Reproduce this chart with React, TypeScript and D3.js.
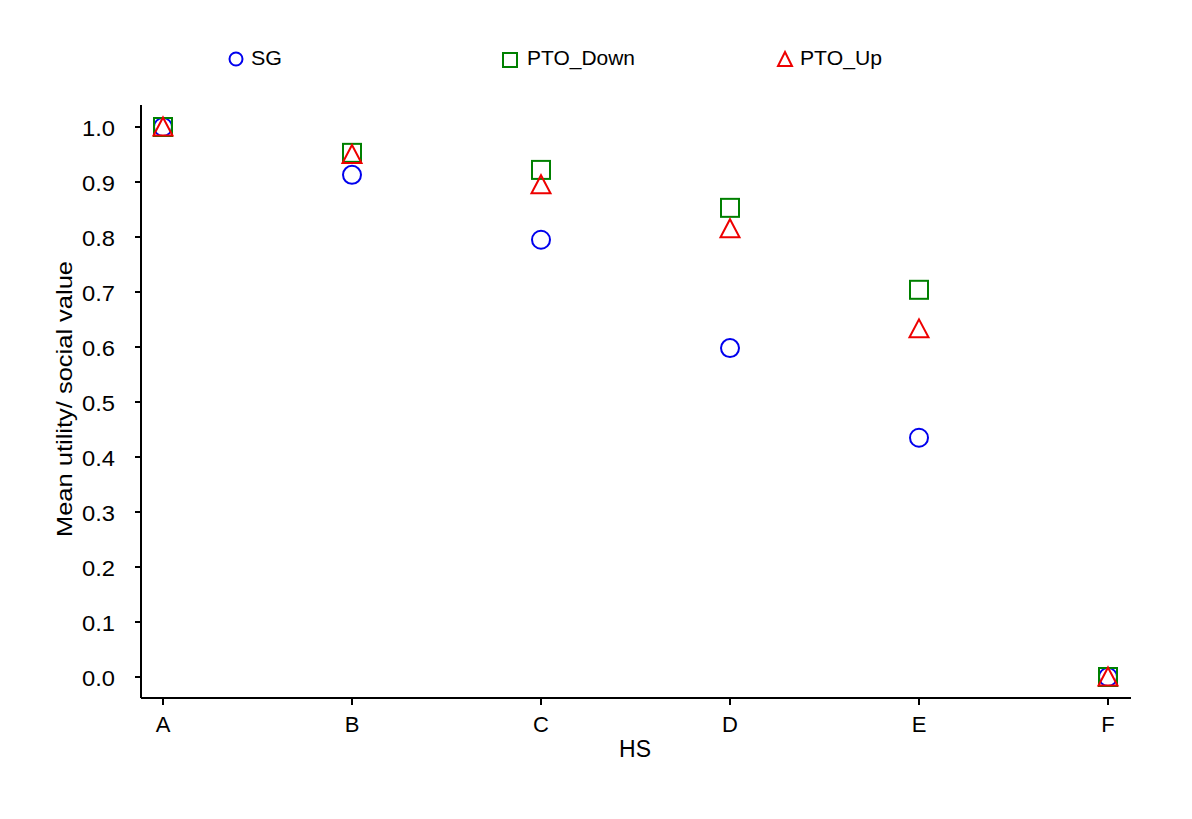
import React from "react";
import * as d3 from "d3";

const categories = ["A", "B", "C", "D", "E", "F"];
const sgValues = [1.0, 0.913, 0.795, 0.598, 0.435, 0.0];
const ptoDownValues = [1.0, 0.953, 0.922, 0.853, 0.704, 0.0];
const ptoUpValues = [1.0, 0.95, 0.895, 0.815, 0.633, 0.0];
const yTicks = [0, 0.1, 0.2, 0.3, 0.4, 0.5, 0.6, 0.7, 0.8, 0.9, 1.0];

const W = 1192, H = 819;
const axisX = 141, axisY = 698, axisRight = 1131, axisTop = 105;
const font = "'Liberation Sans', Arial, Helvetica, sans-serif";

export default function App() {
  const x = d3.scalePoint<string>().domain(categories).range([163, 1108]);
  const y = d3.scaleLinear().domain([0, 1]).range([677, 127]);
  const tri = (cx: number, cy: number) =>
    `M${cx},${cy - 9.5}L${cx + 9.5},${cy + 8.5}L${cx - 9.5},${cy + 8.5}Z`;
  return (
    <svg width={W} height={H} style={{ position: "absolute", left: 0, top: 0, background: "#fff" }} fontFamily={font}>
      <rect width={W} height={H} fill="#fff" />
      {/* legend */}
      <circle cx={236} cy={59} r={6.5} fill="none" stroke="#0000ee" strokeWidth={2} />
      <text x={251} y={65} fontSize={21} textLength={31} lengthAdjust="spacingAndGlyphs">SG</text>
      <rect x={503} y={53} width={14} height={14} fill="none" stroke="#008000" strokeWidth={2} />
      <text x={527} y={65} fontSize={21} textLength={108} lengthAdjust="spacingAndGlyphs">PTO_Down</text>
      <path d={`M785,52L792,66L778,66Z`} fill="none" stroke="#ee0000" strokeWidth={2} />
      <text x={800} y={65} fontSize={21} textLength={82} lengthAdjust="spacingAndGlyphs">PTO_Up</text>
      {/* axes */}
      <line x1={axisX} y1={axisTop} x2={axisX} y2={axisY} stroke="#000" strokeWidth={2} />
      <line x1={axisX} y1={axisY} x2={axisRight} y2={axisY} stroke="#000" strokeWidth={2} />
      {yTicks.map((t) => (
        <g key={t}>
          <line x1={axisX - 6} x2={axisX} y1={y(t)} y2={y(t)} stroke="#000" strokeWidth={2} />
          <text x={115} y={y(t) + 9} fontSize={22} textAnchor="end" textLength={33} lengthAdjust="spacingAndGlyphs">{d3.format(".1f")(t)}</text>
        </g>
      ))}
      {categories.map((c) => (
        <g key={c}>
          <line x1={x(c)!} x2={x(c)!} y1={axisY} y2={axisY + 7} stroke="#000" strokeWidth={2} />
          <text x={x(c)!} y={axisY + 34} fontSize={22} textAnchor="middle">{c}</text>
        </g>
      ))}
      <text x={635} y={757} fontSize={23} textAnchor="middle">HS</text>
      <text transform={`translate(72,399) rotate(-90)`} fontSize={22} textAnchor="middle" textLength={276} lengthAdjust="spacingAndGlyphs">Mean utility/ social value</text>
      {/* data */}
      {sgValues.map((v, i) => (
        <circle key={"s" + i} cx={x(categories[i])!} cy={y(v)} r={9} fill="none" stroke="#0000ee" strokeWidth={2} />
      ))}
      {ptoDownValues.map((v, i) => (
        <rect key={"d" + i} x={x(categories[i])! - 9} y={y(v) - 9} width={18} height={18} fill="none" stroke="#008000" strokeWidth={2} />
      ))}
      {ptoUpValues.map((v, i) => (
        <path key={"u" + i} d={tri(x(categories[i])!, y(v))} fill="none" stroke="#ee0000" strokeWidth={2} />
      ))}
    </svg>
  );
}
